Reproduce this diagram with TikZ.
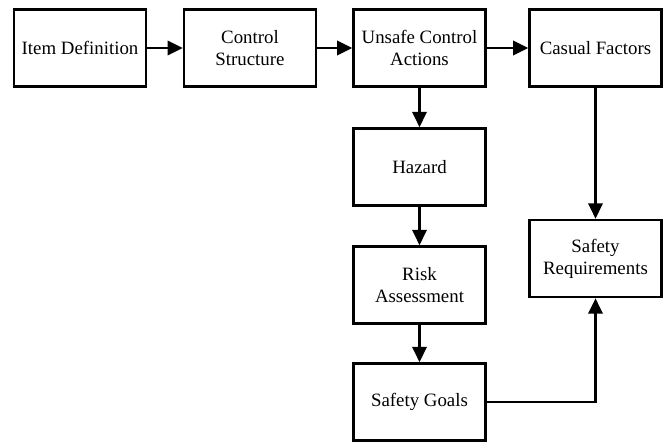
\documentclass[tikz,border=0pt]{standalone}
\usepackage{fontspec}
\setmainfont{Liberation Serif}
\usetikzlibrary{arrows.meta}
\begin{document}
\begin{tikzpicture}[x=0.025cm, y=-0.025cm,
	box/.style = {draw, line width=1.8pt, minimum width=3.3cm, minimum height=1.93cm, inner sep=0pt, align=center, font=\fontsize{13.4}{15.6}\selectfont},
	flow/.style = {-{Triangle[length=0.38cm, width=0.36cm]}, line width=1.6pt}]
	\useasboundingbox (0,0) rectangle (666,443);
	\node [box] (item) at (80,48) {Item Definition};
	\node [box] (ctrl) at (250,48) {Control\\Structure};
	\node [box] (uca) at (419.5,48) {Unsafe Control\\Actions};
	\node [box] (causal) at (595.5,48) {Casual Factors};
	\node [box] (hazard) at (419.5,167) {Hazard};
	\node [box] (risk) at (419.5,285) {Risk\\Assessment};
	\node [box] (goals) at (419.5,402) {Safety Goals};
	\node [box] (req) at (595.5,258.5) {Safety\\Requirements};
	\draw [flow] (item) -- (ctrl);
	\draw [flow] (ctrl) -- (uca);
	\draw [flow] (uca) -- (causal);
	\draw [flow] (uca) -- (hazard);
	\draw [flow] (hazard) -- (risk);
	\draw [flow] (risk) -- (goals);
	\draw [flow] (causal) -- (req);
	\draw [flow] (goals.east) -| (req.south);
\end{tikzpicture}
\end{document}
